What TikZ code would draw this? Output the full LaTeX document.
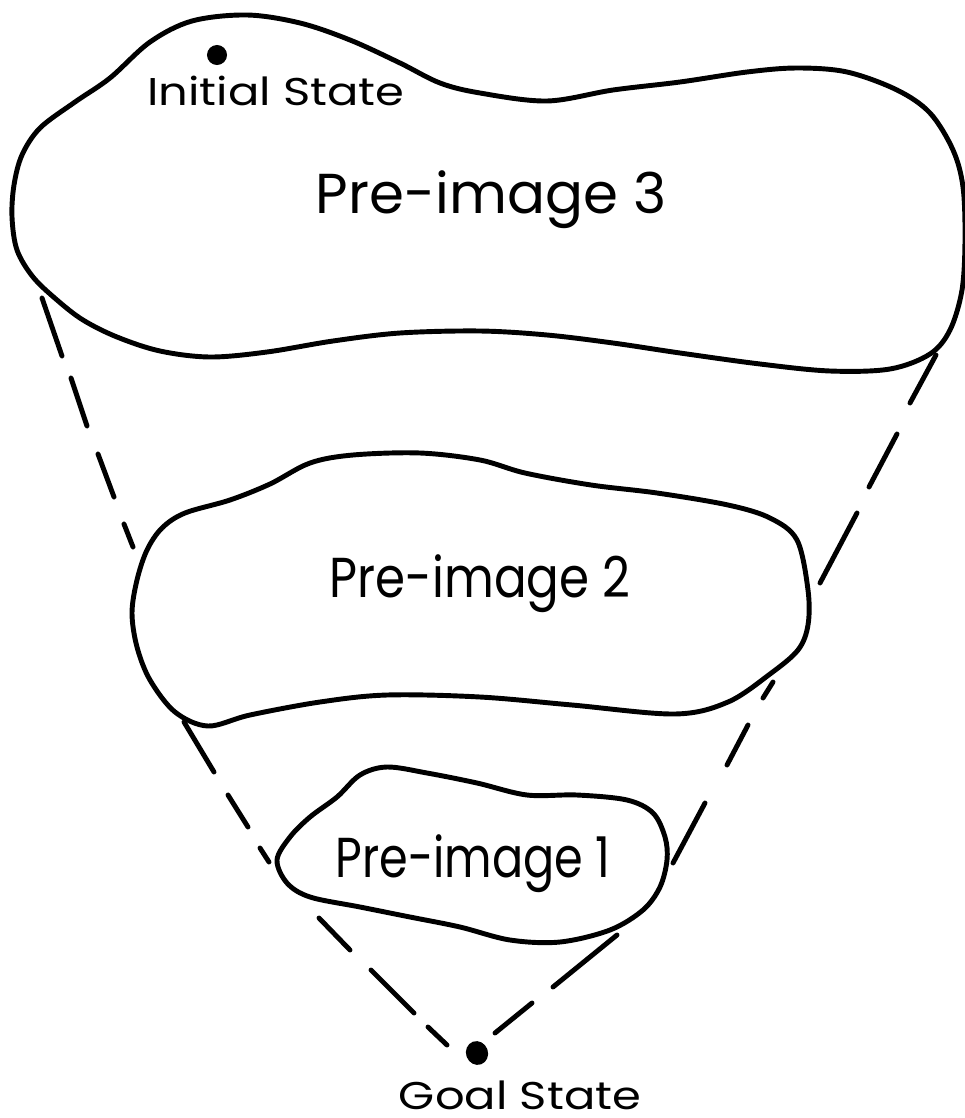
\documentclass[tikz,border=0pt]{standalone}
\usepackage{fontspec}
\usepackage{graphicx}
\setmainfont{Poppins}
\usetikzlibrary{shapes.geometric}
\begin{document}
\begin{tikzpicture}[x=0.01cm,y=-0.01cm,
  blob/.style={line width=1.4pt, line join=round},
  dashseg/.style={line width=1.4pt, line cap=round},
  dotnode/.style={circle, fill=black, inner sep=0pt},
  biglbl/.style={font=\fontsize{16}{18}\selectfont, inner sep=0pt, anchor=base},
  smalllbl/.style={font=\fontsize{11}{13}\selectfont, inner sep=0pt, anchor=base}]
\useasboundingbox (0,0) rectangle (965,1118);
% Pre-image 3
\draw[blob] plot[smooth cycle, tension=0.55] coordinates {
 (12,217) (14,185) (22,155) (40,128) (75,102) (110,78) (150,42)
 (192,21) (247,15) (300,23) (350,40) (400,63) (440,83) (480,93)
 (547,101) (613,90) (680,82) (747,72) (797,68) (847,72) (897,90) (930,113)
 (953,150) (963,187) (965,240) (962,290) (950,330) (930,354)
 (890,369) (830,371) (760,364) (680,353) (613,343) (547,335) (480,331)
 (400,333) (333,341) (267,352) (210,357) (160,351) (117,337) (83,320)
 (57,300) (33,277) (17,250)};
% Pre-image 2
\draw[blob] plot[smooth cycle, tension=0.55] coordinates {
 (185,513) (230,500) (270,484) (310,463) (353,455) (420,453)
 (480,460) (525,473) (591,485) (657,493) (728,505) (770,518) (797,540)
 (808,590) (808,625) (798,650) (770,674) (728,702) (675,714) (572,705)
 (480,697) (387,695) (320,702) (250,715) (208,726) (175,712)
 (150,680) (137,647) (132,613) (137,580) (147,550) (162,528)};
% Pre-image 1
\draw[blob] plot[smooth cycle, tension=0.55] coordinates {
 (277,860) (290,837) (310,817) (337,797) (360,775) (387,767) (427,773)
 (477,783) (527,795) (577,795) (627,800) (653,813) (665,837) (667,860)
 (660,887) (643,910) (610,930) (560,942) (510,940) (460,927) (410,917)
 (360,907) (310,897) (287,883)};
% states
\node[dotnode, minimum size=0.2cm] (init) at (217,55) {};
\node[fill=black, ellipse, inner sep=0pt, minimum width=0.22cm, minimum height=0.24cm, rotate=20] (goal) at (477,1053) {};
\node[smalllbl] (initlbl) at (276,105) {\scalebox{1.2}[1]{Initial State}};
\node[smalllbl] (goallbl) at (520,1109) {\scalebox{1.2}[1]{Goal State}};
\node[biglbl] (p3) at (491,213) {Pre-image 3};
\node[biglbl] (p2) at (480,597) {\scalebox{0.86}[1]{Pre-image 2}};
\node[biglbl] (p1) at (473,877) {\scalebox{0.82}[1]{Pre-image 1}};
% cone dashes
\foreach \a/\b in {
 {(42,298)}/{(62,356)}, {(71,378)}/{(87,426)}, {(98,454)}/{(114,497)}, {(124,524)}/{(133,547)},
 {(184,722)}/{(214,772)}, {(228,795)}/{(248,827)}, {(260,848)}/{(269,862)},
 {(319,918)}/{(350,950)}, {(371,970)}/{(414,1013)}, {(428,1027)}/{(447,1045)},
 {(936,355)}/{(910,403)}, {(897,434)}/{(869,487)}, {(857,513)}/{(820,583)},
 {(773,682)}/{(763,698)}, {(748,725)}/{(727,765)}, {(705,803)}/{(673,863)},
 {(617,935)}/{(553,987)}, {(532,1003)}/{(495,1033)}}
 \draw[dashseg] \a -- \b;
\end{tikzpicture}
\end{document}
